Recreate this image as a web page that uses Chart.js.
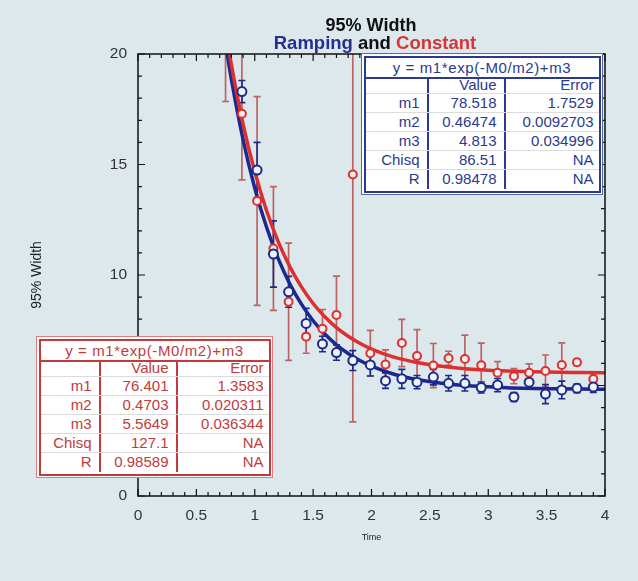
<!DOCTYPE html>
<html><head><meta charset="utf-8">
<script src="https://cdn.jsdelivr.net/npm/chart.js@4.4.1/dist/chart.umd.min.js"></script>
<style>
html,body{margin:0;padding:0;background:#dce8ec;}
#wrap{position:relative;width:638px;height:581px;overflow:hidden;background:#dce8ec;font-family:"Liberation Sans",Arial,Helvetica,sans-serif;}
canvas{position:absolute;left:0;top:0;}
.t1,.t2{position:absolute;text-align:center;font-weight:bold;white-space:nowrap;color:#111;}
.t1{left:171px;width:400px;top:16px;font-size:18px;line-height:19px;}
.t2{left:175px;width:400px;top:33px;font-size:18.5px;line-height:19px;}
.box{position:absolute;box-sizing:border-box;height:142px;background:#fff;padding:1.5px;}
.inner{box-sizing:border-box;height:100%;border:2px solid;}
.ttl{height:21.5px;line-height:19px;text-align:center;font-size:15px;letter-spacing:0.6px;border-bottom:2.5px solid;white-space:nowrap;box-sizing:border-box;}
.row{display:flex;height:19.1px;line-height:18px;border-bottom:1px solid #dcdcdc;box-sizing:border-box;}
.row.hdr{height:15px;line-height:12px;}
.row:last-child{border-bottom:none;}
.c{box-sizing:border-box;text-align:right;font-size:15px;padding-right:7px;white-space:nowrap;overflow:visible;}
.c1,.c2{border-right:2px solid;}
.c3{padding-right:5px;flex:1;}
</style></head>
<body>
<div id="wrap">
<canvas id="c" width="638" height="581"></canvas>
<div class="t1">95% Width</div>
<div class="t2"><span style="color:#24308c">Ramping</span> and <span style="color:#d63535">Constant</span></div>
</div>
<script>
// ---- data ----
const timeValues    = [0.75, 0.89, 1.02, 1.16, 1.29, 1.44, 1.58, 1.70, 1.84, 1.99, 2.12, 2.26, 2.39, 2.53, 2.66, 2.80, 2.94, 3.08, 3.22, 3.35, 3.49, 3.63, 3.76, 3.90];
const rampingWidth  = [20.8, 18.3, 14.75, 10.95, 9.24, 7.81, 6.88, 6.49, 6.13, 5.93, 5.22, 5.30, 5.15, 5.38, 5.10, 5.10, 4.91, 5.02, 4.48, 5.15, 4.61, 4.80, 4.87, 4.93];
const rampingError  = [0.5, 0.5, 1.25, 1.5, 0.7, 0.68, 0.35, 0.35, 0.45, 0.5, 0.35, 0.43, 0.3, 0.35, 0.35, 0.35, 0.25, 0.3, 0.2, 0.3, 0.43, 0.4, 0.2, 0.25];
const constantWidth = [21.3, 17.3, 13.35, 11.2, 8.79, 7.21, 7.57, 8.19, 14.55, 6.46, 5.95, 6.92, 6.33, 5.9, 6.23, 6.2, 5.92, 5.58, 5.42, 5.58, 5.66, 5.93, 6.05, 5.29];
const constantError = [3.45, 3.0, 4.72, 2.8, 2.65, 0.75, 0.87, 1.76, 11.2, 1.03, 0.66, 1.07, 1.2, 1.0, 0.32, 1.08, 1.0, 0.5, 0.34, 0.4, 0.72, 1.0, 0.15, 0.25];
const fitTime       = [0.75, 0.8, 0.9, 1.0, 1.1, 1.2, 1.3, 1.4, 1.5, 1.6, 1.7, 1.8, 1.9, 2.0, 2.2, 2.4, 2.6, 2.8, 3.0, 3.2, 3.4, 3.6, 3.8, 4.0];
const rampingFit    = [20.45, 18.85, 16.13, 13.94, 12.18, 10.75, 9.60, 8.68, 7.93, 7.33, 6.84, 6.45, 6.13, 5.88, 5.50, 5.26, 5.10, 5.00, 4.94, 4.89, 4.86, 4.85, 4.84, 4.83];
const constantFit   = [21.07, 19.51, 16.83, 14.68, 12.93, 11.52, 10.38, 9.46, 8.71, 8.11, 7.62, 7.23, 6.91, 6.65, 6.27, 6.03, 5.87, 5.76, 5.69, 5.65, 5.62, 5.60, 5.59, 5.58];
const xTickValues   = [0, 0.5, 1, 1.5, 2, 2.5, 3, 3.5, 4];
const xTickLabels   = ['0', '0.5', '1', '1.5', '2', '2.5', '3', '3.5', '4'];
const yTickValues   = [0, 5, 10, 15, 20];
const yTickLabels   = ['0', '5', '10', '15', '20'];
const fitEquation   = 'y = m1*exp(-M0/m2)+m3';
const fitParamNames = ['m1', 'm2', 'm3', 'Chisq', 'R'];
const rampingValues = ['78.518', '0.46474', '4.813', '86.51', '0.98478'];
const rampingErrors = ['1.7529', '0.0092703', '0.034996', 'NA', 'NA'];
const constantValues= ['76.401', '0.4703', '5.5649', '127.1', '0.98589'];
const constantErrors= ['1.3583', '0.020311', '0.036344', 'NA', 'NA'];

const NAVY = '#1c2a8c', RED = '#dc3030';

// ---- fit tables (HTML) ----
function makeTable(left, top, width, c1, c2, color, outer, vals, errs) {
  const box = document.createElement('div');
  box.className = 'box';
  Object.assign(box.style, {left: left + 'px', top: top + 'px', width: width + 'px', color: color, border: '1.5px solid ' + outer});
  let html = '<div class="inner"><div class="ttl">' + fitEquation + '</div>';
  html += '<div class="row hdr"><div class="c c1" style="width:' + c1 + 'px"></div><div class="c c2" style="width:' + c2 + 'px">Value</div><div class="c c3">Error</div></div>';
  fitParamNames.forEach((n, i) => {
    html += '<div class="row"><div class="c c1" style="width:' + c1 + 'px">' + n + '</div><div class="c c2" style="width:' + c2 + 'px">' + vals[i] + '</div><div class="c c3">' + errs[i] + '</div></div>';
  });
  html += '</div>';
  box.innerHTML = html;
  document.getElementById('wrap').appendChild(box);
}
makeTable(361, 53, 242, 63, 77, '#2b3a8e', '#5d6a9c', rampingValues, rampingErrors);
makeTable(36, 336, 237, 60, 77, '#c23a3c', '#e07c7c', constantValues, constantErrors);

// ---- plugins ----
const errorBarPlugin = {
  id: 'errorBars',
  beforeDatasetsDraw(chart) {
    const {ctx, chartArea: a, scales: {x, y}} = chart;
    ctx.save();
    ctx.beginPath(); ctx.rect(a.left, a.top, a.right - a.left, a.bottom - a.top); ctx.clip();
    const draw = (vals, errs, color, w) => {
      ctx.strokeStyle = color; ctx.lineWidth = w; ctx.beginPath();
      vals.forEach((v, i) => {
        const px = x.getPixelForValue(timeValues[i]);
        const p1 = y.getPixelForValue(v + errs[i]);
        const p2 = y.getPixelForValue(v - errs[i]);
        ctx.moveTo(px, p1); ctx.lineTo(px, p2);
        ctx.moveTo(px - 3.5, p1); ctx.lineTo(px + 3.5, p1);
        ctx.moveTo(px - 3.5, p2); ctx.lineTo(px + 3.5, p2);
      });
      ctx.stroke();
    };
    draw(constantWidth, constantError, 'rgba(185,75,75,0.85)', 1.7);
    draw(rampingWidth, rampingError, NAVY, 1.6);
    ctx.restore();
  }
};
const framePlugin = {
  id: 'frame',
  afterDatasetsDraw(chart) {
    const {ctx, chartArea: a, scales: {x, y}} = chart;
    ctx.save();
    ctx.strokeStyle = '#111'; ctx.lineWidth = 1.5;
    ctx.strokeRect(a.left, a.top, a.right - a.left, a.bottom - a.top);
    ctx.lineWidth = 1.2; ctx.beginPath();
    for (let i = 0; i <= 40; i++) {
      const px = x.getPixelForValue(i / 10), L = (i % 5 === 0) ? 7 : 4;
      ctx.moveTo(px, a.bottom); ctx.lineTo(px, a.bottom - L);
      ctx.moveTo(px, a.top); ctx.lineTo(px, a.top + L);
    }
    for (let i = 0; i <= 20; i++) {
      const py = y.getPixelForValue(i), L = (i % 5 === 0) ? 7 : 4;
      ctx.moveTo(a.left, py); ctx.lineTo(a.left + L, py);
      ctx.moveTo(a.right, py); ctx.lineTo(a.right - L, py);
    }
    ctx.stroke(); ctx.restore();
  }
};

Chart.defaults.font.family = '"Liberation Sans", Arial, Helvetica, sans-serif';
const pts = (xs, ys) => xs.map((t, i) => ({x: t, y: ys[i]}));

new Chart(document.getElementById('c'), {
  type: 'scatter',
  data: {
    datasets: [
      {label: 'Ramping', data: pts(timeValues, rampingWidth), pointRadius: 4.5, pointBorderWidth: 2,
       pointBorderColor: NAVY, pointBackgroundColor: '#eef4f7', showLine: false},
      {label: 'Constant', data: pts(timeValues, constantWidth), pointRadius: 4, pointBorderWidth: 2,
       pointBorderColor: RED, pointBackgroundColor: '#f2ecec', showLine: false},
      {label: 'Constant fit', data: pts(fitTime, constantFit), showLine: true, pointRadius: 0,
       borderColor: RED, borderWidth: 3.5, cubicInterpolationMode: 'monotone', borderCapStyle: 'round'},
      {label: 'Ramping fit', data: pts(fitTime, rampingFit), showLine: true, pointRadius: 0,
       borderColor: '#1a2890', borderWidth: 3.5, cubicInterpolationMode: 'monotone', borderCapStyle: 'round'}
    ]
  },
  options: {
    responsive: false, animation: false, events: [],
    layout: {padding: {left: 0, right: 33, top: 54, bottom: 0}},
    plugins: {legend: {display: false}, tooltip: {enabled: false}, title: {display: false}},
    scales: {
      x: {
        type: 'linear', min: 0, max: 4,
        grid: {display: false, drawTicks: false}, border: {display: false},
        afterBuildTicks: s => { s.ticks = xTickValues.map(v => ({value: v})); },
        afterFit: s => { s.height = 85; },
        ticks: {padding: 10, color: '#333', font: {size: 15.5}, callback: (v, i) => xTickLabels[i]},
        title: {display: true, text: 'Time', color: '#222', font: {size: 9}, padding: {top: 0, bottom: 38}}
      },
      y: {
        type: 'linear', min: 0, max: 20,
        grid: {display: false, drawTicks: false}, border: {display: false},
        afterBuildTicks: s => { s.ticks = yTickValues.map(v => ({value: v})); },
        afterFit: s => { s.width = 138; },
        ticks: {padding: 11, color: '#333', font: {size: 15.5}, callback: (v, i) => yTickLabels[i]},
        title: {display: true, text: '95% Width', color: '#222', font: {size: 14}, padding: {top: 29, bottom: 0}}
      }
    }
  },
  plugins: [errorBarPlugin, framePlugin]
});
</script>
</body></html>
